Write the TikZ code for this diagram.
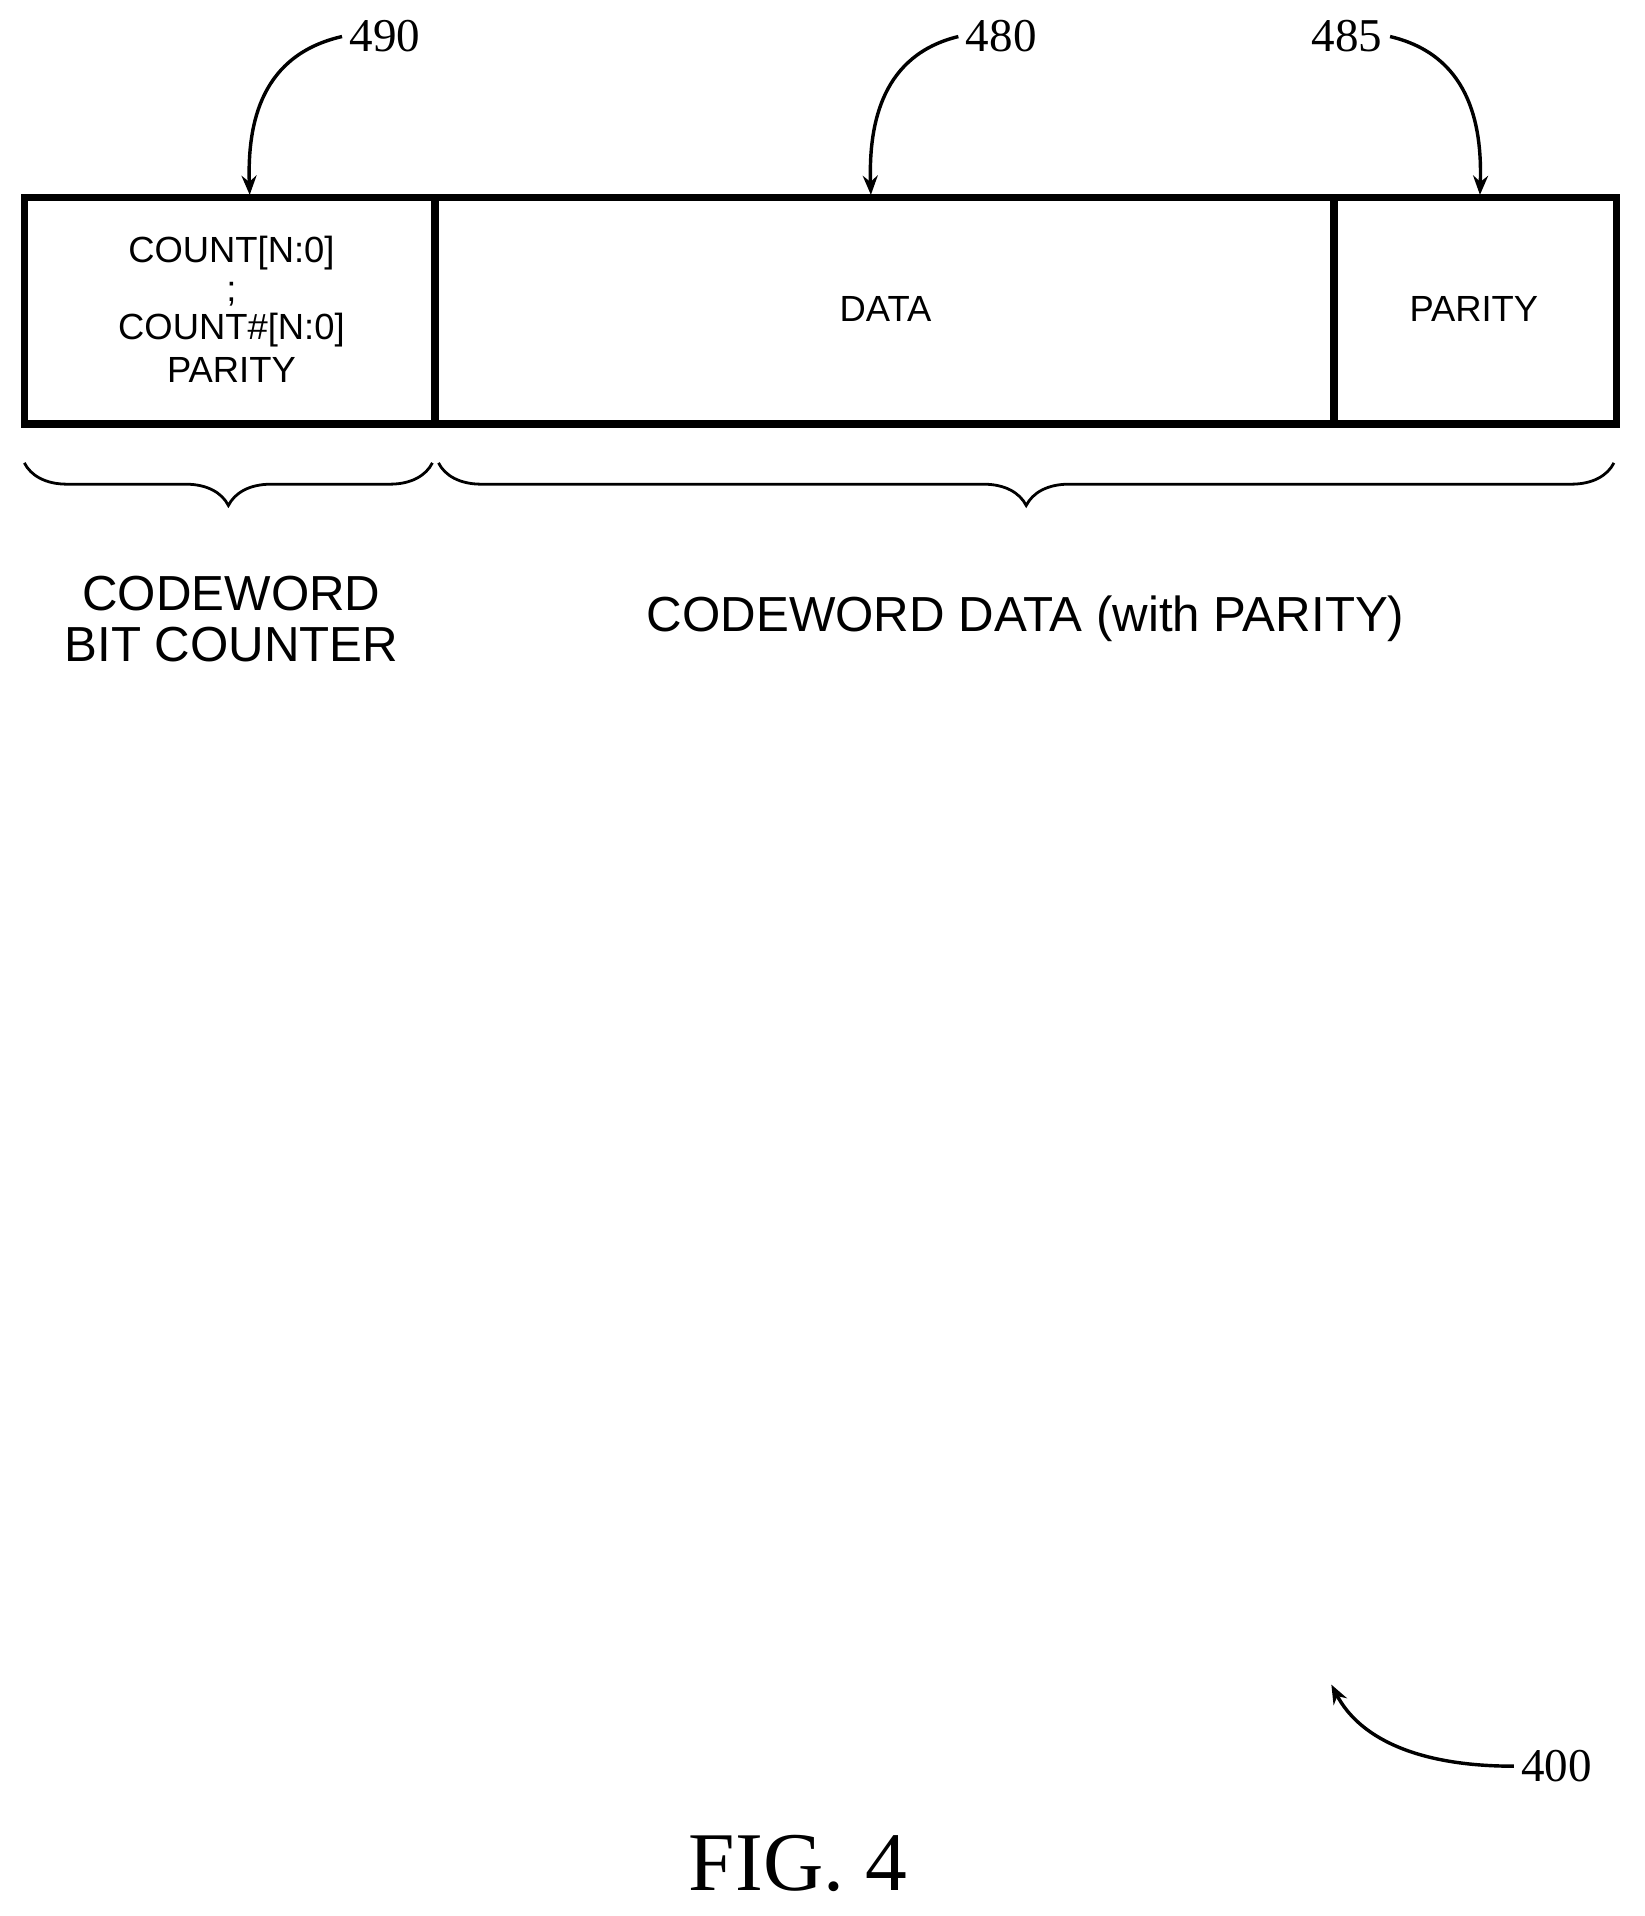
\documentclass[tikz,border=0pt]{standalone}
\usepackage{fontspec}
\setmainfont{Liberation Serif}
\setsansfont{Liberation Sans}
\usetikzlibrary{decorations.pathreplacing,arrows.meta}
\begin{document}
\begin{tikzpicture}[x=0.02cm,y=-0.02cm,
  field/.style={font=\sffamily\fontsize{17}{20}\selectfont,align=center},
  grouplabel/.style={font=\sffamily\fontsize{23}{24}\selectfont,align=center},
  ref/.style={font=\fontsize{22}{24}\selectfont},
  lead/.style={line width=1.6pt,-{Stealth[length=9pt,width=7pt]}},
  brc/.style={line width=1.3pt,decorate,decoration={brace,mirror,amplitude=0.7cm}}]
  \useasboundingbox (0,0) rectangle (1350,1573);
  % word layout
  \draw[line width=3.5pt] (20,162) rectangle (1327,348);
  \draw[line width=3.5pt] (357,162) -- (357,348);
  \draw[line width=3.5pt] (1095,162) -- (1095,348);
  \node[field] (cnt) at (190,254) {COUNT[N:0]\\[-2pt];\\[-2pt]COUNT\#[N:0]\\PARITY};
  \node[field] (data) at (727,254) {DATA};
  \node[field] (par) at (1210,254) {PARITY};
  \coordinate (cntTop) at (205,160);
  \coordinate (dataTop) at (715,160);
  \coordinate (parTop) at (1215,160);
  % braces
  \draw[brc] (20,380) -- (355,380);
  \draw[brc] (360,380) -- (1325,380);
  \node[grouplabel] (bitc) at (190,508) {CODEWORD\\BIT COUNTER};
  \node[grouplabel] (cwd) at (842,508) {CODEWORD DATA (with PARITY)};
  % reference numerals
  \node[ref] (n490) at (316,30) {490};
  \node[ref] (n480) at (822,30) {480};
  \node[ref] (n485) at (1106,30) {485};
  \node[ref] (n400) at (1278,1450) {400};
  \node[font=\fontsize{39}{40}\selectfont] (fig) at (655,1530) {FIG. 4};
  \coordinate (c400) at (1093,1383);
  \draw[lead] (n490.west) .. controls (215,45) and (203,100) .. (cntTop);
  \draw[lead] (n480.west) .. controls (725,45) and (713,100) .. (dataTop);
  \draw[lead] (n485.east) .. controls (1205,45) and (1217,100) .. (parTop);
  \draw[lead] (n400.west) .. controls (1160,1450) and (1115,1425) .. (c400);
\end{tikzpicture}
\end{document}
